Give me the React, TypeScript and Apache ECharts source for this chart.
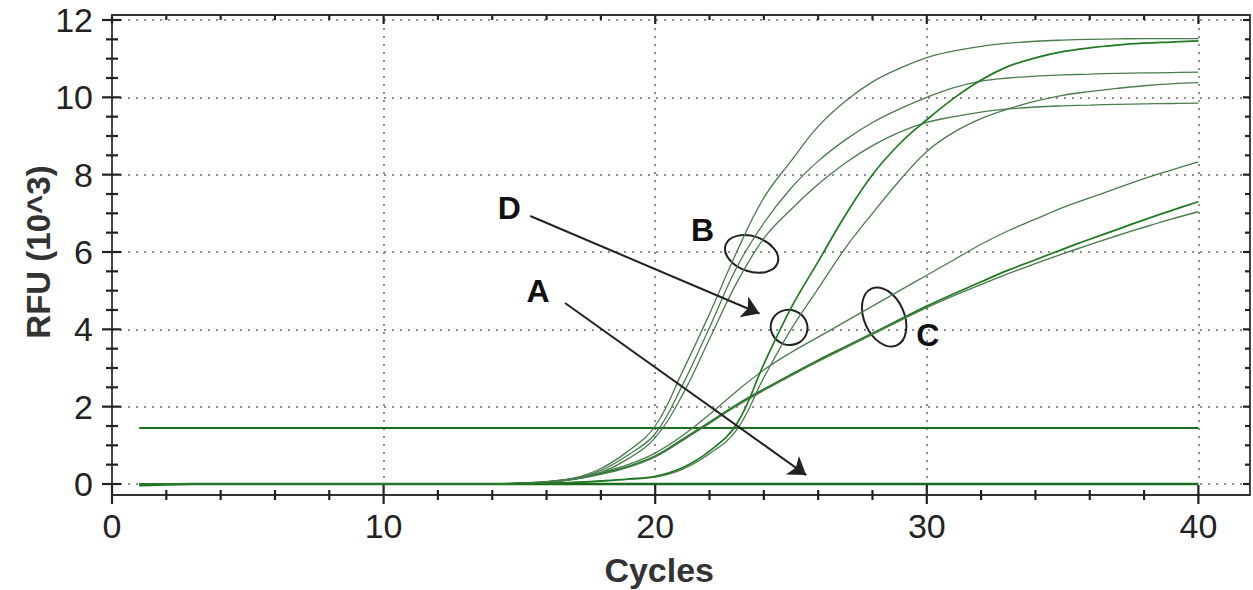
import React, { useEffect, useRef } from "react";
import * as echarts from "echarts";

// ---------- data ----------
const CYCLES = [1, 2, 3, 4, 5, 6, 7, 8, 9, 10, 11, 12, 13, 14, 15, 16, 17, 18, 19, 20, 21, 22, 23, 24, 25, 26, 27, 28, 29, 30, 31, 32, 33, 34, 35, 36, 37, 38, 39, 40];

const X_TICKS = [0, 10, 20, 30, 40];
const Y_TICKS = [0, 2, 4, 6, 8, 10, 12];
const X_TICK_MARKS = [0, 2, 4, 6, 8, 10, 12, 14, 16, 18, 20, 22, 24, 26, 28, 30, 32, 34, 36, 38, 40];
const Y_TICK_MARKS = [0, 0.5, 1, 1.5, 2, 2.5, 3, 3.5, 4, 4.5, 5, 5.5, 6, 6.5, 7, 7.5, 8, 8.5, 9, 9.5, 10, 10.5, 11, 11.5, 12];

const THRESHOLD = [1.45, 1.45, 1.45, 1.45, 1.45, 1.45, 1.45, 1.45, 1.45, 1.45, 1.45, 1.45, 1.45, 1.45, 1.45, 1.45, 1.45, 1.45, 1.45, 1.45, 1.45, 1.45, 1.45, 1.45, 1.45, 1.45, 1.45, 1.45, 1.45, 1.45, 1.45, 1.45, 1.45, 1.45, 1.45, 1.45, 1.45, 1.45, 1.45, 1.45];
const BASELINE_A = [-0.03, -0.01, 0, 0, 0, 0, 0, 0, 0, 0, 0, 0, 0, 0, 0, 0, 0, 0, 0, 0, 0, 0, 0, 0, 0, 0, 0, 0, 0, 0, 0, 0, 0, 0, 0, 0, 0, 0, 0, 0];

const B1 = [0, 0, 0, 0, 0, 0, 0, 0, 0, 0, 0, 0, 0, 0, 0.02, 0.06, 0.15, 0.4, 0.85, 1.5, 2.9, 4.4, 6.0, 7.4, 8.35, 9.25, 9.9, 10.4, 10.75, 11.03, 11.2, 11.32, 11.4, 11.45, 11.48, 11.5, 11.51, 11.52, 11.52, 11.52];
const B2 = [0, 0, 0, 0, 0, 0, 0, 0, 0, 0, 0, 0, 0, 0, 0.02, 0.05, 0.13, 0.35, 0.75, 1.3, 2.55, 4.05, 5.6, 6.75, 7.65, 8.35, 8.9, 9.35, 9.7, 10.0, 10.25, 10.42, 10.5, 10.55, 10.58, 10.6, 10.62, 10.63, 10.64, 10.65];
const B3 = [0, 0, 0, 0, 0, 0, 0, 0, 0, 0, 0, 0, 0, 0, 0.02, 0.05, 0.12, 0.3, 0.65, 1.2, 2.3, 3.75, 5.2, 6.35, 7.1, 7.75, 8.3, 8.75, 9.1, 9.35, 9.5, 9.62, 9.7, 9.75, 9.78, 9.8, 9.82, 9.83, 9.84, 9.85];
const D1 = [0, 0, 0, 0, 0, 0, 0, 0, 0, 0, 0, 0, 0, 0, 0.01, 0.02, 0.04, 0.08, 0.13, 0.2, 0.42, 0.85, 1.55, 3.1, 4.55, 5.75, 6.95, 8.0, 8.8, 9.42, 9.98, 10.45, 10.8, 11.02, 11.18, 11.28, 11.35, 11.4, 11.43, 11.46];
const D2 = [0, 0, 0, 0, 0, 0, 0, 0, 0, 0, 0, 0, 0, 0, 0.01, 0.02, 0.04, 0.07, 0.12, 0.18, 0.38, 0.78, 1.4, 2.75, 4.0, 5.05, 6.1, 7.0, 7.85, 8.6, 9.1, 9.45, 9.7, 9.9, 10.05, 10.15, 10.23, 10.3, 10.35, 10.38];
const C1 = [0, 0, 0, 0, 0, 0, 0, 0, 0, 0, 0, 0, 0, 0, 0.02, 0.06, 0.15, 0.3, 0.5, 0.8, 1.25, 1.8, 2.4, 2.95, 3.4, 3.8, 4.2, 4.6, 5.0, 5.4, 5.8, 6.2, 6.55, 6.85, 7.15, 7.4, 7.65, 7.9, 8.12, 8.33];
const C2 = [0, 0, 0, 0, 0, 0, 0, 0, 0, 0, 0, 0, 0, 0, 0.02, 0.05, 0.13, 0.27, 0.45, 0.72, 1.15, 1.6, 2.05, 2.45, 2.83, 3.2, 3.55, 3.9, 4.25, 4.6, 4.92, 5.23, 5.53, 5.8, 6.07, 6.33, 6.58, 6.83, 7.07, 7.3];
const C3 = [0, 0, 0, 0, 0, 0, 0, 0, 0, 0, 0, 0, 0, 0, 0.02, 0.05, 0.12, 0.25, 0.43, 0.7, 1.12, 1.57, 2.02, 2.42, 2.8, 3.17, 3.52, 3.87, 4.22, 4.56, 4.87, 5.16, 5.44, 5.7, 5.95, 6.19, 6.42, 6.64, 6.85, 7.04];

// annotation anchors (data coordinates)
const LABELS = [
  { text: "D", at: [14.63, 7.13] },
  { text: "B", at: [21.74, 6.57] },
  { text: "A", at: [15.69, 4.99] },
  { text: "C", at: [30.04, 3.85] },
];
const ARROWS = [
  { from: [15.4, 6.93], to: [23.84, 4.41] },
  { from: [16.68, 4.68], to: [25.56, 0.23] },
];
const ELLIPSES = [
  { at: [23.55, 5.95], rx: 27.5, ry: 17.5, rotDeg: -19 },
  { at: [24.93, 4.05], rx: 18.5, ry: 17.5, rotDeg: -20 },
  { at: [28.43, 4.32], rx: 20, ry: 31, rotDeg: 24 },
];

// ---------- styles ----------
const FONT = "'Liberation Sans', Arial, Helvetica, sans-serif";
const TICK_COLOR = "#222";
const GRID_COLOR = "#8f8f8f";
const THIN_GREEN = "#4a7c4e";
const DARK_GREEN = "#1f7a22";
const FLAT_GREEN = "#1b6b1d";
const X_MAX = 41.9;
const Y_MAX = 12;
const BOTTOM_GAP = 11; // frame below y = 0
const TOP_GAP = 5; // frame above y = 12
const TW = 2.2; // tick thickness

function toPairs(values: number[]) {
  return CYCLES.map((c, i) => [c, values[i]]);
}

export default function App() {
  const ref = useRef<HTMLDivElement>(null);

  useEffect(() => {
    document.body.style.margin = "0";
    const chart = echarts.init(ref.current!, null, { renderer: "svg" });

    const curve = (name: string, values: number[], color: string, width: number, z = 3) => ({
      type: "line",
      name,
      data: toPairs(values),
      symbol: "none",
      showSymbol: false,
      smooth: 0.4,
      clip: false,
      silent: true,
      z,
      lineStyle: { color, width },
    });

    const rectEl = (x: number, y: number, w: number, h: number) => ({
      type: "rect",
      shape: { x, y, width: w, height: h },
      style: { fill: TICK_COLOR },
    });

    const xTickSeries = {
      type: "custom",
      name: "xticks",
      coordinateSystem: "cartesian2d",
      clip: false,
      silent: true,
      z: 20,
      data: X_TICK_MARKS.map((v) => [v, 0]),
      renderItem: (_params: any, api: any) => {
        const v = api.value(0);
        const pBottom = api.coord([v, 0]);
        const pTop = api.coord([v, Y_MAX]);
        const x = pBottom[0];
        const B = pBottom[1] + BOTTOM_GAP;
        const T = pTop[1] - TOP_GAP;
        const major = X_TICKS.indexOf(v) >= 0;
        const children = major
          ? [rectEl(x - TW / 2, B - 10, TW, 19), rectEl(x - TW / 2, T, TW, 9)]
          : [rectEl(x - TW / 2, B - 5, TW, 10), rectEl(x - TW / 2, T, TW, 5)];
        return { type: "group", children };
      },
    };

    const yTickSeries = {
      type: "custom",
      name: "yticks",
      coordinateSystem: "cartesian2d",
      clip: false,
      silent: true,
      z: 20,
      data: Y_TICK_MARKS.map((v) => [0, v]),
      renderItem: (_params: any, api: any) => {
        const v = api.value(1);
        const pLeft = api.coord([0, v]);
        const pRight = api.coord([X_MAX, v]);
        const y = pLeft[1];
        const L = pLeft[0];
        const R = pRight[0];
        const major = Y_TICKS.indexOf(v) >= 0;
        const children = major
          ? [rectEl(L - 10, y - TW / 2, 19, TW), rectEl(R - 7, y - TW / 2, 7, TW)]
          : [rectEl(L - 6, y - TW / 2, 12, TW), rectEl(R - 5, y - TW / 2, 5, TW)];
        return { type: "group", children };
      },
    };

    const option: any = {
      animation: false,
      grid: { left: 112, right: 3, top: 20, bottom: 106, containLabel: false },
      xAxis: [
        {
          type: "value",
          position: "bottom",
          min: 0,
          max: X_MAX,
          interval: 10,
          axisLine: { show: false, onZero: false },
          axisTick: { show: false },
          axisLabel: {
            show: true,
            customValues: X_TICKS,
            margin: 14 + BOTTOM_GAP,
            fontSize: 34,
            fontFamily: FONT,
            color: "#222",
          },
          splitLine: { show: true, lineStyle: { type: [2, 6], color: GRID_COLOR, width: 2 } },
        },
      ],
      yAxis: [
        {
          type: "value",
          position: "left",
          min: 0,
          max: Y_MAX,
          interval: 2,
          axisLine: { show: false, onZero: false },
          axisTick: { show: false },
          axisLabel: {
            show: true,
            customValues: Y_TICKS,
            margin: 19,
            fontSize: 34,
            fontFamily: FONT,
            color: "#222",
          },
          splitLine: { show: true, lineStyle: { type: [2, 6], color: GRID_COLOR, width: 2 } },
        },
      ],
      series: [
        {
          ...curve("Threshold", THRESHOLD, FLAT_GREEN, 2, 2),
          smooth: false,
          markLine: {
            silent: true,
            symbol: ["none", "arrow"],
            symbolSize: 17,
            label: { show: false },
            lineStyle: { color: "#222", width: 2, type: "solid" },
            animation: false,
            data: ARROWS.map((a) => [{ coord: a.from }, { coord: a.to }]),
          },
        },
        { ...curve("A", BASELINE_A, FLAT_GREEN, 2.5, 2), smooth: false },
        curve("C2", C2, DARK_GREEN, 1.8),
        curve("C3", C3, THIN_GREEN, 1.4),
        curve("C1", C1, THIN_GREEN, 1.3),
        curve("B1", B1, THIN_GREEN, 1.3),
        curve("B2", B2, THIN_GREEN, 1.3),
        curve("B3", B3, THIN_GREEN, 1.3),
        curve("D2", D2, THIN_GREEN, 1.3),
        curve("D1", D1, DARK_GREEN, 1.7, 4),
        xTickSeries,
        yTickSeries,
      ],
    };

    chart.setOption(option);

    const px = (p: number[]) => chart.convertToPixel({ xAxisIndex: 0, yAxisIndex: 0 }, p) as number[];
    const origin = px([0, 0]);
    const topRight = px([X_MAX, Y_MAX]);
    const L = origin[0];
    const R = topRight[0];
    const T = topRight[1] - TOP_GAP;
    const B = origin[1] + BOTTOM_GAP;

    const graphics: any[] = [
      {
        type: "rect",
        shape: { x: L, y: T, width: R - L, height: B - T },
        style: { fill: "none", stroke: "#333", lineWidth: 1.8 },
      },
      {
        type: "text",
        x: 38,
        y: px([0, 6])[1],
        rotation: Math.PI / 2,
        style: {
          text: "RFU (10^3)",
          fontSize: 33,
          fontWeight: "bold",
          fontFamily: FONT,
          fill: "#333",
          align: "center",
          verticalAlign: "middle",
        },
      },
      {
        type: "text",
        x: px([20, 0])[0] + 4,
        y: 570,
        style: {
          text: "Cycles",
          fontSize: 34,
          fontWeight: "bold",
          fontFamily: FONT,
          fill: "#333",
          align: "center",
          verticalAlign: "middle",
        },
      },
    ];

    LABELS.forEach((l) => {
      const p = px(l.at);
      graphics.push({
        type: "text",
        x: p[0],
        y: p[1],
        style: {
          text: l.text,
          fontSize: 32,
          fontWeight: "bold",
          fontFamily: FONT,
          fill: "#111",
          align: "center",
          verticalAlign: "middle",
        },
      });
    });

    ELLIPSES.forEach((e) => {
      const p = px(e.at);
      graphics.push({
        type: "ellipse",
        x: p[0],
        y: p[1],
        rotation: (e.rotDeg * Math.PI) / 180,
        shape: { cx: 0, cy: 0, rx: e.rx, ry: e.ry },
        style: { fill: "none", stroke: "#222", lineWidth: 2 },
      });
    });

    chart.setOption({ graphic: graphics });

    return () => chart.dispose();
  }, []);

  return (
    <div
      ref={ref}
      style={{ position: "absolute", left: 0, top: 0, width: 1253, height: 590, background: "#fff" }}
    />
  );
}
